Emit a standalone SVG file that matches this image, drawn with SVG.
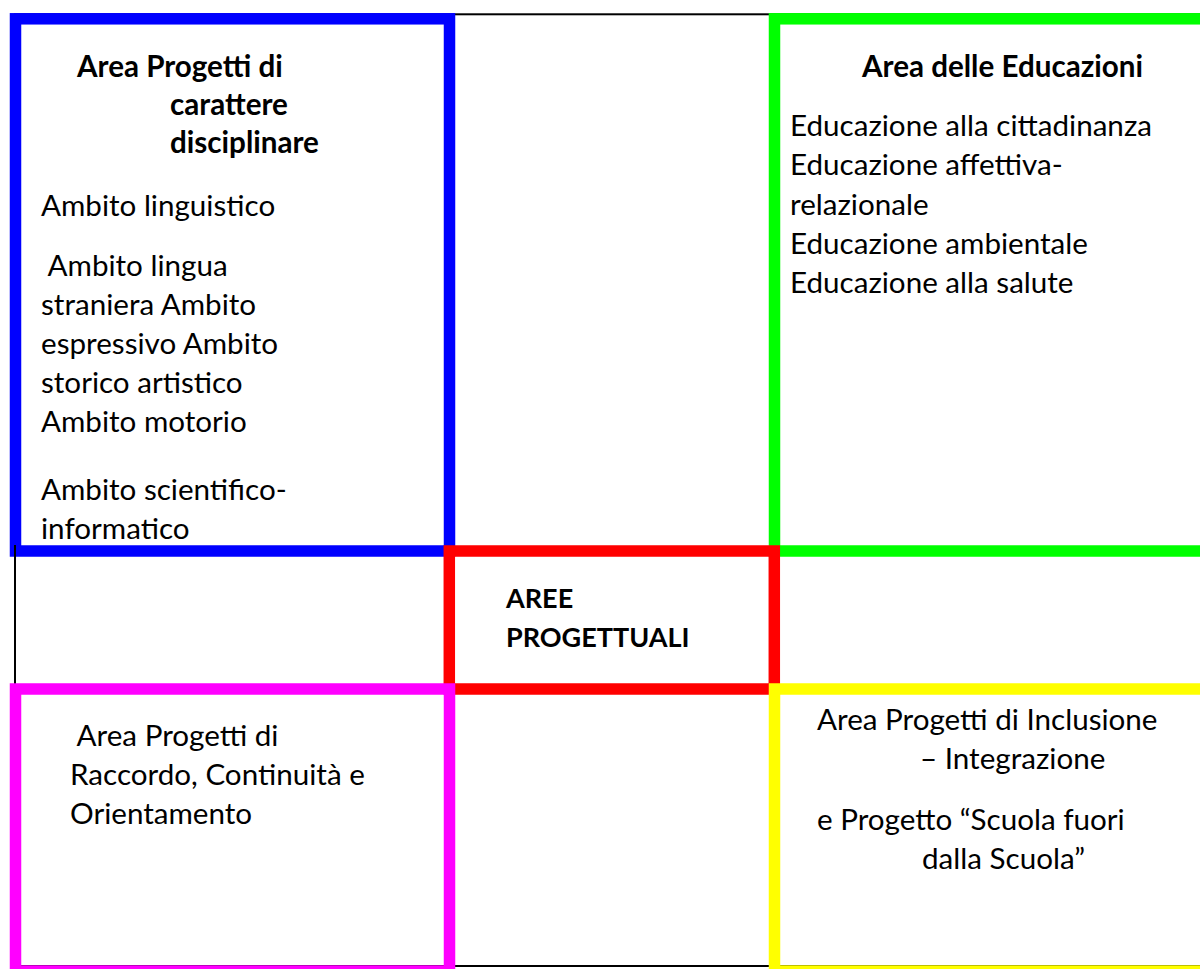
<svg xmlns="http://www.w3.org/2000/svg" width="1200" height="969" viewBox="0 0 1200 969">
<style>
.box{fill:none;stroke-width:11.5}
.frame{fill:none;stroke:#000;stroke-width:2}
.t{font-family:Lato,"Open Sans","Liberation Sans",sans-serif;font-size:29.6px;fill:#000}
.b{font-family:Lato,"Open Sans","Liberation Sans",sans-serif;font-weight:bold;font-size:29.6px;fill:#000}
.bc{font-size:27px}
</style>
<rect width="1200" height="969" fill="#fff"/>
<g id="frame">
<rect class="frame" x="15" y="14.3" width="1200" height="951.7"/>
</g>
<g id="area-disciplinare">
<rect class="box" stroke="#0000ff" x="15.5" y="18.8" width="434" height="532.2"/>
<text class="b" x="77" y="77">Area Progetti di</text>
<text class="b" x="170" y="115">carattere</text>
<text class="b" x="170" y="153">disciplinare</text>
<text class="t" x="41" y="216">Ambito linguistico</text>
<text class="t" x="41" y="276" xml:space="preserve"> Ambito lingua</text>
<text class="t" x="41" y="315">straniera Ambito</text>
<text class="t" x="41" y="354">espressivo Ambito</text>
<text class="t" x="41" y="393">storico artistico</text>
<text class="t" x="41" y="432">Ambito motorio</text>
<text class="t" x="41" y="500">Ambito scientifico-</text>
<text class="t" x="41" y="539">informatico</text>
</g>
<line x1="15" y1="545" x2="15" y2="683" stroke="#000" stroke-width="2"/>
<g id="area-educazioni">
<rect class="box" stroke="#00ff00" x="774.5" y="18.8" width="460" height="532.2"/>
<text class="b" x="862" y="77">Area delle Educazioni</text>
<text class="t" x="790" y="136">Educazione alla cittadinanza</text>
<text class="t" x="790" y="175">Educazione affettiva-</text>
<text class="t" x="790" y="215">relazionale</text>
<text class="t" x="790" y="254">Educazione ambientale</text>
<text class="t" x="790" y="293">Educazione alla salute</text>
</g>
<g id="aree-progettuali">
<rect class="box" stroke="#ff0000" x="449.3" y="551" width="325" height="138"/>
<text class="b bc" x="506" y="608">AREE</text>
<text class="b bc" x="506" y="647">PROGETTUALI</text>
</g>
<g id="area-raccordo">
<rect class="box" stroke="#ff00ff" x="15.5" y="689" width="434" height="282"/>
<text class="t" x="70" y="746" xml:space="preserve"> Area Progetti di</text>
<text class="t" x="70" y="785">Raccordo, Continuità e</text>
<text class="t" x="70" y="824">Orientamento</text>
</g>
<g id="area-inclusione">
<rect class="box" stroke="#ffff00" x="774.5" y="689" width="460" height="282"/>
<text class="t" x="817" y="730">Area Progetti di Inclusione</text>
<text class="t" x="920" y="769">– Integrazione</text>
<text class="t" x="817" y="830">e Progetto “Scuola fuori</text>
<text class="t" x="922" y="869">dalla Scuola”</text>
</g>
</svg>
